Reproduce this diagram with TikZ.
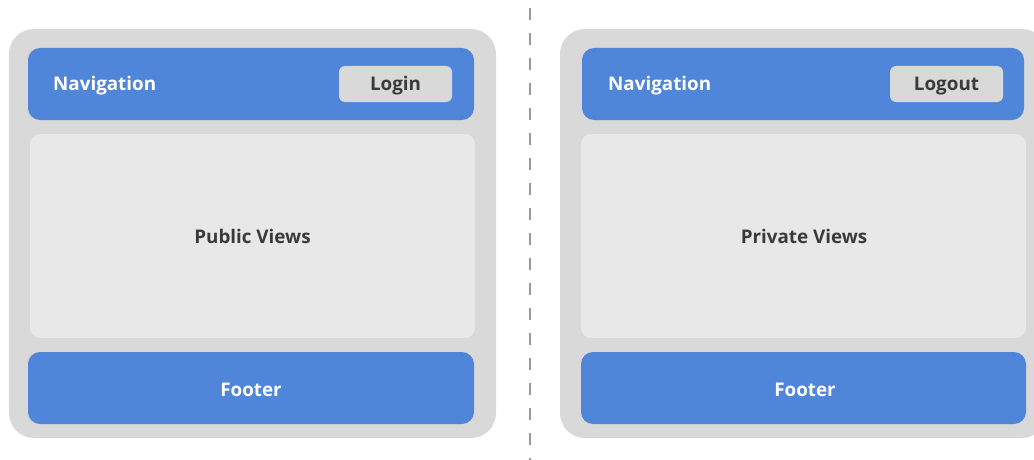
\documentclass[tikz,border=0pt]{standalone}
\usepackage{fontspec}
\setmainfont{Open Sans}
\definecolor{outerc}{HTML}{D9D9D9}
\definecolor{navc}{HTML}{4F86DA}
\definecolor{contc}{HTML}{E8E8E8}
\definecolor{txtc}{HTML}{3A3A3A}
\definecolor{dashc}{HTML}{9A9A9A}
\begin{document}
\begin{tikzpicture}[x=1pt,y=-1pt,
  outerbox/.style={fill=outerc,rounded corners=25pt},
  navbox/.style={fill=navc,rounded corners=12pt},
  contbox/.style={fill=contc,rounded corners=10pt},
  btnbox/.style={fill=outerc,rounded corners=6pt},
  wlabel/.style={inner sep=0pt,text=white,font=\fontsize{18.8}{22}\selectfont\bfseries},
  dlabel/.style={inner sep=0pt,text=txtc,font=\fontsize{18.8}{22}\selectfont\bfseries}]
\useasboundingbox (0,0) rectangle (1034,460);
\clip (0,0) rectangle (1034,460);
% dashed divider
\coordinate (dtop) at (530,8);
\coordinate (dbot) at (530,460);
\draw[dashc,line width=1.3pt,dash pattern=on 12pt off 13pt] (dtop) -- (dbot);
% left panel
\fill[outerbox] (9,29) rectangle (496,438);
\fill[navbox] (28,48) rectangle (474,120);
\fill[btnbox] (339,66) rectangle (452,102);
\fill[contbox] (30,134) rectangle (475,338);
\fill[navbox] (28,352) rectangle (474,424);
\node[wlabel,anchor=base west] (lnav) at (53,91) {Navigation};
\node[dlabel,anchor=base] (login) at (395.5,91) {Login};
\node[dlabel,anchor=base] (pub) at (252.5,243) {Public Views};
\node[wlabel,anchor=base] (lfoot) at (251,396) {Footer};
% right panel
\fill[outerbox] (560,29) rectangle (1047,438);
\fill[navbox] (582,48) rectangle (1024,120);
\fill[btnbox] (890,66) rectangle (1003,102);
\fill[contbox] (581,134) rectangle (1026,338);
\fill[navbox] (581,352) rectangle (1026,424);
\node[wlabel,anchor=base west] (rnav) at (608,91) {Navigation};
\node[dlabel,anchor=base] (logout) at (946.5,91) {Logout};
\node[dlabel,anchor=base] (priv) at (804,243) {Private Views};
\node[wlabel,anchor=base] (rfoot) at (805,396) {Footer};
\end{tikzpicture}
\end{document}
